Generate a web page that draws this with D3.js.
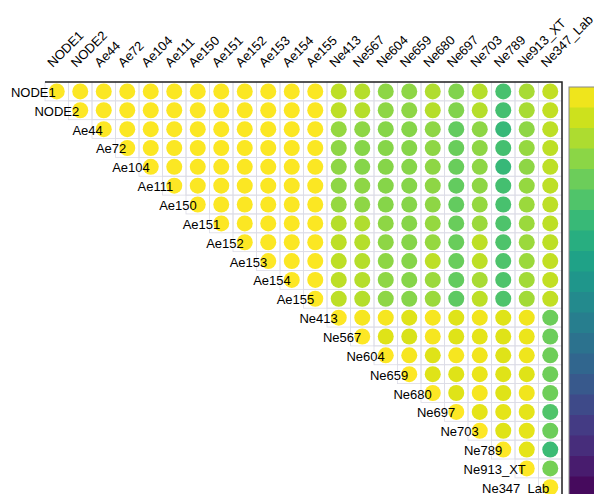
<!DOCTYPE html>
<html>
<head>
<meta charset="utf-8">
<script src="https://cdn.jsdelivr.net/npm/d3@7"></script>
<style>
  body { margin: 0; background: #fff; overflow: hidden; }
  text { font-family: Arial, "Liberation Sans", sans-serif; font-size: 13px; fill: #000; }
</style>
</head>
<body>
<svg id="chart" width="594" height="494"></svg>
<script>
// variable names (row / column order)
var labels = ["NODE1", "NODE2", "Ae44", "Ae72", "Ae104", "Ae111", "Ae150", "Ae151",
    "Ae152", "Ae153", "Ae154", "Ae155", "Ne413", "Ne567", "Ne604", "Ne659",
    "Ne680", "Ne697", "Ne703", "Ne789", "Ne913_XT", "Ne347_Lab"];

// upper triangle of the correlation matrix, row i starts at column i
var corr = [
    [1, 0.99, 0.99, 0.99, 0.99, 0.99, 0.99, 0.99, 0.99, 0.99, 0.99, 0.99, 0.80, 0.78, 0.66, 0.66, 0.76, 0.62, 0.78, 0.42, 0.74, 0.82],
    [1, 0.99, 0.99, 0.99, 0.99, 0.99, 0.99, 0.99, 0.99, 0.99, 0.99, 0.80, 0.78, 0.66, 0.66, 0.78, 0.62, 0.78, 0.40, 0.74, 0.82],
    [1, 0.99, 0.99, 0.99, 0.99, 0.99, 0.99, 0.99, 0.99, 0.99, 0.68, 0.66, 0.64, 0.64, 0.66, 0.52, 0.66, 0.34, 0.66, 0.80],
    [1, 0.99, 0.99, 0.99, 0.99, 0.99, 0.99, 0.99, 0.99, 0.66, 0.64, 0.64, 0.64, 0.66, 0.54, 0.66, 0.40, 0.68, 0.80],
    [1, 0.99, 0.99, 0.99, 0.99, 0.99, 0.99, 0.99, 0.66, 0.64, 0.64, 0.64, 0.66, 0.54, 0.66, 0.34, 0.66, 0.80],
    [1, 0.99, 0.99, 0.99, 0.99, 0.99, 0.99, 0.66, 0.66, 0.64, 0.64, 0.66, 0.52, 0.66, 0.40, 0.68, 0.80],
    [1, 0.99, 0.99, 0.99, 0.99, 0.99, 0.68, 0.66, 0.64, 0.64, 0.66, 0.52, 0.68, 0.42, 0.70, 0.80],
    [1, 0.99, 0.99, 0.99, 0.99, 0.78, 0.76, 0.66, 0.64, 0.68, 0.54, 0.70, 0.44, 0.70, 0.80],
    [1, 0.99, 0.99, 0.99, 0.80, 0.78, 0.66, 0.64, 0.68, 0.54, 0.80, 0.44, 0.70, 0.80],
    [1, 0.99, 0.99, 0.80, 0.78, 0.66, 0.64, 0.80, 0.54, 0.80, 0.44, 0.70, 0.82],
    [1, 0.99, 0.80, 0.78, 0.66, 0.64, 0.70, 0.52, 0.74, 0.44, 0.72, 0.82],
    [1, 0.80, 0.78, 0.66, 0.64, 0.70, 0.50, 0.80, 0.44, 0.72, 0.82],
    [1, 0.97, 0.97, 0.90, 0.97, 0.90, 0.96, 0.90, 0.96, 0.55],
    [1, 0.90, 0.88, 0.97, 0.90, 0.92, 0.90, 0.94, 0.55],
    [1, 0.97, 0.90, 0.97, 0.96, 0.90, 0.95, 0.56],
    [1, 0.90, 0.90, 0.93, 0.90, 0.90, 0.56],
    [1, 0.90, 0.97, 0.90, 0.96, 0.56],
    [1, 0.92, 0.92, 0.92, 0.45],
    [1, 0.90, 0.92, 0.55],
    [1, 0.92, 0.36],
    [1, 0.58],
    [1]
];

// colour legend goes from -1 to 1 in 20 steps
var legendSteps = 20;

var svg = d3.select("#chart");

var x = d3.scaleBand().domain(labels).range([45, 562]);
var y = d3.scaleBand().domain(labels).range([82, 82 + 22 * 18.85]);
var color = d3.scaleSequential(d3.interpolateViridis).domain([-1, 1]);

// flatten into cells
var cells = [];
corr.forEach(function (row, i) {
    row.forEach(function (v, k) {
        cells.push({ row: labels[i], col: labels[i + k], value: v });
    });
});

// cell grid
svg.append("g").selectAll("rect")
    .data(cells)
    .enter()
    .append("rect")
    .attr("x", function (d) { return x(d.col); })
    .attr("y", function (d) { return y(d.row); })
    .attr("width", x.bandwidth())
    .attr("height", y.bandwidth())
    .attr("fill", "none")
    .attr("stroke", "#dcdce6")
    .attr("stroke-width", 0.8);

// circles
svg.append("g").selectAll("circle")
    .data(cells)
    .enter()
    .append("circle")
    .attr("cx", function (d) { return x(d.col) + x.bandwidth() / 2; })
    .attr("cy", function (d) { return y(d.row) + y.bandwidth() / 2; })
    .attr("r", 8)
    .attr("fill", function (d) { return color(d.value); });

// top and right border
svg.append("path")
    .attr("d", "M" + x.range()[0] + "," + y.range()[0] + "H" + x.range()[1] + "V" + y.range()[1])
    .attr("fill", "none")
    .attr("stroke", "#222")
    .attr("stroke-width", 1.5);

// row labels, ending at the diagonal cell
svg.append("g").selectAll("text")
    .data(labels)
    .enter()
    .append("text")
    .attr("x", function (d) { return x(d) + x.bandwidth() / 2 - 1; })
    .attr("y", function (d) { return y(d) + y.bandwidth() / 2 + 1; })
    .attr("text-anchor", "end")
    .attr("dominant-baseline", "central")
    .text(function (d) { return d; });

// column labels, rotated
svg.append("g").selectAll("text")
    .data(labels)
    .enter()
    .append("text")
    .attr("transform", function (d) {
        return "translate(" + (x(d) + x.bandwidth() / 2 - 4) + ",68) rotate(-45)";
    })
    .attr("text-anchor", "start")
    .text(function (d) { return d; });

// colour legend (clipped by the right edge)
var legendY = d3.scaleLinear().domain([1, -1]).range([87, 497]);
var steps = d3.range(legendSteps).map(function (i) { return 1 - i * 2 / legendSteps; });
svg.append("g").selectAll("rect")
    .data(steps)
    .enter()
    .append("rect")
    .attr("x", 569)
    .attr("y", function (d) { return legendY(d); })
    .attr("width", 40)
    .attr("height", legendY(-1) - legendY(-1 + 2 / legendSteps) + 0.5)
    .attr("fill", function (d) { return color(d - 1 / legendSteps); });
svg.append("rect")
    .attr("x", 569)
    .attr("y", legendY(1))
    .attr("width", 40)
    .attr("height", legendY(-1) - legendY(1))
    .attr("fill", "none")
    .attr("stroke", "#888")
    .attr("stroke-width", 1);
</script>
</body>
</html>
